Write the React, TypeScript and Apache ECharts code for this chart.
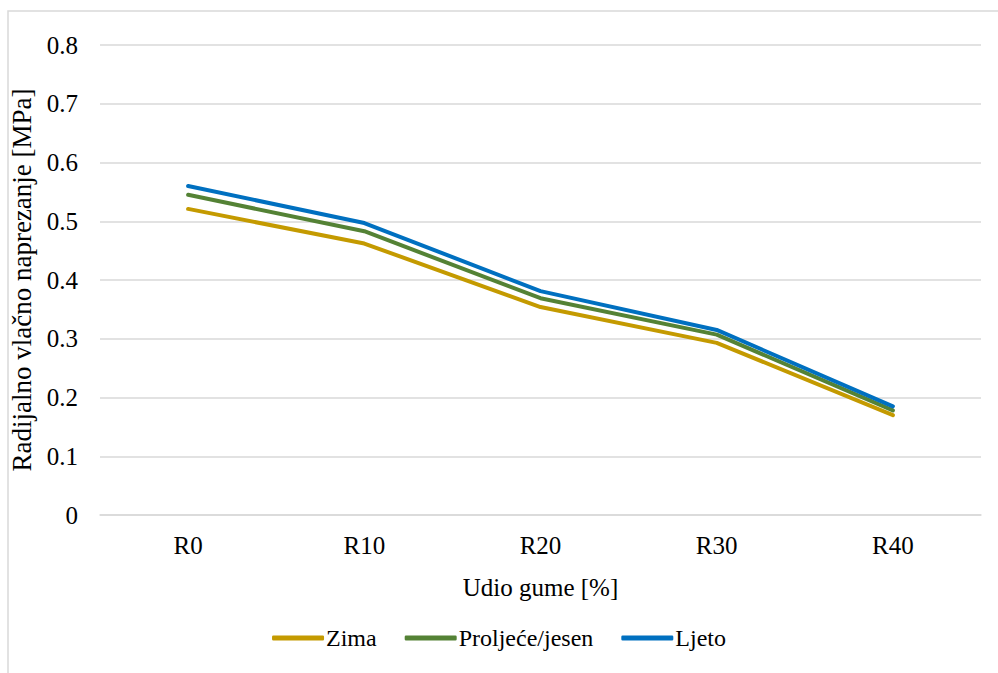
import React, { useEffect, useRef } from "react";
import * as echarts from "echarts";

const categories = ["R0", "R10", "R20", "R30", "R40"];
const zima = [0.521, 0.462, 0.354, 0.293, 0.17];
const proljeceJesen = [0.545, 0.483, 0.369, 0.307, 0.178];
const ljeto = [0.56, 0.497, 0.381, 0.315, 0.185];

const seriesNames = ["Zima", "Proljeće/jesen", "Ljeto"];
const seriesColors = ["#C49A00", "#548235", "#0070C0"];

const FONT = "Liberation Serif";

export default function App() {
  const ref = useRef<HTMLDivElement>(null);
  useEffect(() => {
    if (!ref.current) return;
    const chart = echarts.init(ref.current, null, { renderer: "svg" });
    const data = [zima, proljeceJesen, ljeto];
    chart.setOption({
      animation: false,
      backgroundColor: "#ffffff",
      textStyle: { fontFamily: FONT, color: "#000" },
      graphic: [
        {
          type: "rect",
          shape: { x: 8, y: 11, width: 1100, height: 800 },
          style: { fill: "none", stroke: "#d9d9d9", lineWidth: 1.5 },
          silent: true,
        },
      ],
      grid: { left: 100, right: 17, top: 45, bottom: 158 },
      legend: {
        bottom: 18,
        left: "center",
        icon: "roundRect",
        itemWidth: 52,
        itemHeight: 5,
        itemGap: 28,
        textStyle: { fontFamily: FONT, fontSize: 24, color: "#000", padding: [0, 0, 0, -3] },
        data: seriesNames,
      },
      xAxis: {
        type: "category",
        data: categories,
        boundaryGap: true,
        axisLine: { show: true, lineStyle: { color: "#d9d9d9", width: 1.5 } },
        axisTick: { show: false },
        axisLabel: { fontFamily: FONT, fontSize: 25, color: "#000", margin: 18 },
        name: "Udio gume [%]",
        nameLocation: "middle",
        nameGap: 60,
        nameTextStyle: { fontFamily: FONT, fontSize: 25, color: "#000" },
      },
      yAxis: {
        type: "value",
        min: 0,
        max: 0.8,
        interval: 0.1,
        axisLine: { show: false },
        axisTick: { show: false },
        splitLine: { lineStyle: { color: "#d9d9d9", width: 1.5 } },
        axisLabel: {
          fontFamily: FONT,
          fontSize: 25,
          color: "#000",
          margin: 22,
          formatter: (v: number) => (v === 0 ? "0" : v.toFixed(1)),
        },
        name: "Radijalno vlačno naprezanje [MPa]",
        nameLocation: "middle",
        nameGap: 57,
        nameTextStyle: { fontFamily: FONT, fontSize: 27, color: "#000" },
      },
      series: seriesNames.map((name, i) => ({
        name,
        type: "line",
        data: data[i],
        symbol: "none",
        color: seriesColors[i],
        lineStyle: { width: 4, color: seriesColors[i], cap: "round", join: "round" },
      })),
    });
    return () => chart.dispose();
  }, []);
  return (
    <div
      ref={ref}
      style={{ position: "fixed", left: 0, top: 0, width: 998, height: 673 }}
    />
  );
}
